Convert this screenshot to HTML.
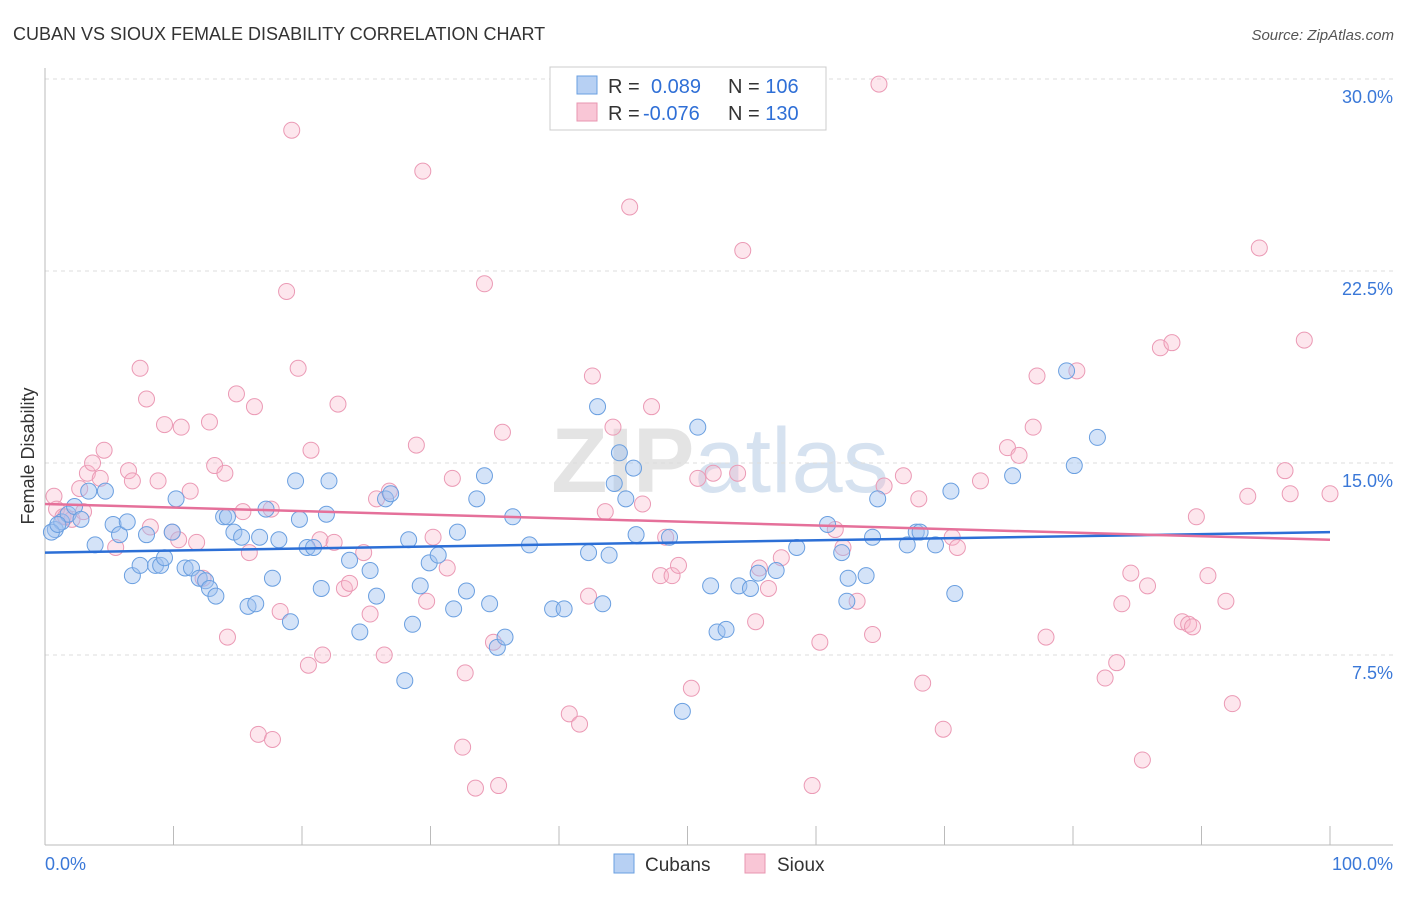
<!DOCTYPE html>
<html><head><meta charset="utf-8"><style>
body{margin:0;background:#fff;font-family:"Liberation Sans",sans-serif;}
svg text{font-family:"Liberation Sans",sans-serif;}
</style></head><body>
<svg id="chart" width="1406" height="892" viewBox="0 0 1406 892">
<text x="13" y="40" font-size="18" fill="#333">CUBAN VS SIOUX FEMALE DISABILITY CORRELATION CHART</text>
<text x="1394" y="40" font-size="15" fill="#555" font-style="italic" text-anchor="end">Source: ZipAtlas.com</text>
<text x="720" y="492" font-size="92" fill="#e4e4e4" text-anchor="middle" font-family="Liberation Serif"><tspan font-weight="bold">ZIP</tspan><tspan font-family="Liberation Sans" fill="#d6e2f0">atlas</tspan></text>
<text transform="translate(34,456) rotate(-90)" font-size="18" fill="#333" text-anchor="middle">Female Disability</text>
<g id="grid"></g><g id="axes"></g><g id="pts"></g><g id="trend"></g>
<g>
<rect x="550" y="67" width="276" height="63" fill="#fff" stroke="#ccc"/>
<rect x="577" y="76" width="20" height="18" fill="#b7d0f3" stroke="#6a9fe0"/>
<rect x="577" y="103" width="20" height="18" fill="#f9c6d6" stroke="#e896b0"/>
<text x="608" y="93" font-size="20" fill="#333">R = <tspan fill="#2f6fd6" x="651">0.089</tspan><tspan fill="#333" x="728">N = </tspan><tspan fill="#2f6fd6">106</tspan></text>
<text x="608" y="120" font-size="20" fill="#333">R = <tspan fill="#2f6fd6" x="643">-0.076</tspan><tspan fill="#333" x="728">N = </tspan><tspan fill="#2f6fd6">130</tspan></text>
</g>
<g>
<rect x="614" y="854" width="20" height="19" fill="#b7d0f3" stroke="#6a9fe0"/>
<text x="645" y="871" font-size="19" fill="#333">Cubans</text>
<rect x="745" y="854" width="20" height="19" fill="#f9c6d6" stroke="#e896b0"/>
<text x="777" y="871" font-size="19" fill="#333">Sioux</text>
</g>
</svg>
<script>
const yTicks=[7.5,15,22.5,30];
const yTickLabels=["7.5%","15.0%","22.5%","30.0%"];
const xTickCount=10;
const xLabels=["0.0%","100.0%"];
const cubanX=[0.8,1.3,1.8,2.3,2.8,3.4,3.9,4.7,5.3,5.8,6.4,6.8,7.4,7.9,8.6,9.0,9.3,9.9,10.2,10.9,11.4,12.0,12.5,12.8,13.3,13.9,14.2,14.7,15.3,15.8,16.4,16.7,17.2,17.7,18.2,19.1,19.5,19.8,20.4,20.9,21.5,21.9,22.1,23.7,24.5,25.3,25.8,26.5,26.9,28.0,28.3,28.6,29.2,29.9,30.6,31.8,32.1,32.8,33.6,34.2,34.6,35.2,35.8,36.4,37.7,39.5,40.4,42.3,43.0,43.4,43.9,44.3,44.7,45.2,45.8,46.0,48.6,49.6,50.8,51.8,52.3,53.0,54.0,54.9,55.5,56.9,58.5,60.9,62.0,62.5,62.4,63.9,64.4,64.8,67.1,67.8,68.1,69.3,70.5,70.8,75.3,79.5,80.1,81.9,0.5,1.0];
const cubanY=[12.4,12.7,13.0,13.3,12.8,13.9,11.8,13.9,12.6,12.2,12.7,10.6,11.0,12.2,11.0,11.0,11.3,12.3,13.6,10.9,10.9,10.5,10.4,10.1,9.8,12.9,12.9,12.3,12.1,9.4,9.5,12.1,13.2,10.5,12.0,8.8,14.3,12.8,11.7,11.7,10.1,13.0,14.3,11.2,8.4,10.8,9.8,13.6,13.8,6.5,12.0,8.7,10.2,11.1,11.4,9.3,12.3,10.0,13.6,14.5,9.5,7.8,8.2,12.9,11.8,9.3,9.3,11.5,17.2,9.5,11.4,14.2,15.4,13.6,14.8,12.2,12.1,5.3,16.4,10.2,8.4,8.5,10.2,10.1,10.7,10.8,11.7,12.6,11.5,10.5,9.6,10.6,12.1,13.6,11.8,12.3,12.3,11.8,13.9,9.9,14.5,18.6,14.9,16.0,12.3,12.6];
const siouxX=[0.7,0.9,1.4,2.1,2.7,3.3,3.7,4.3,4.6,5.5,6.5,6.8,7.4,7.9,8.2,8.8,9.3,9.9,10.6,10.4,11.3,11.8,12.3,12.8,13.2,14.0,14.2,14.9,15.4,15.9,16.3,16.6,17.7,17.6,18.3,18.8,19.2,19.7,20.5,20.7,21.4,21.6,22.5,22.8,23.3,23.7,24.8,25.3,25.8,26.4,26.8,28.9,29.4,29.7,30.2,31.3,31.7,32.5,32.7,33.5,34.2,34.9,35.3,35.6,40.8,41.6,42.3,42.6,43.6,44.2,45.5,46.5,47.2,47.9,48.3,48.8,49.3,50.3,50.8,52.0,53.9,54.3,55.3,55.6,56.3,57.3,59.7,60.3,61.5,62.1,63.2,64.4,64.9,65.3,66.8,68.0,68.3,69.9,70.6,71.0,72.8,74.9,75.8,76.9,77.2,77.9,80.3,82.5,83.4,83.8,84.5,85.4,85.8,86.8,87.7,88.5,89.0,89.3,89.6,90.5,91.9,92.4,93.6,94.5,96.5,96.9,98.0,100,1.6,3.0];
const siouxY=[13.7,13.2,12.9,12.8,14.0,14.6,15.0,14.4,15.5,11.7,14.7,14.3,18.7,17.5,12.5,14.3,16.5,12.3,16.4,12.0,13.9,11.9,10.5,16.6,14.9,14.6,8.2,17.7,13.1,11.5,17.2,4.4,4.2,13.2,9.2,21.7,28.0,18.7,7.1,15.5,12.0,7.5,11.9,17.3,10.1,10.3,11.5,9.1,13.6,7.5,13.9,15.7,26.4,9.6,12.1,10.9,14.4,3.9,6.8,2.3,22.0,8.0,2.4,16.2,5.2,4.8,9.8,18.4,13.1,16.4,25.0,13.4,17.2,10.6,12.1,10.6,11.0,6.2,14.4,14.6,14.6,23.3,8.8,10.9,10.1,11.3,2.4,8.0,12.4,11.7,9.6,8.3,29.8,14.1,14.5,13.6,6.4,4.6,12.1,11.7,14.3,15.6,15.3,16.4,18.4,8.2,18.6,6.6,7.2,9.5,10.7,3.4,10.2,19.5,19.7,8.8,8.7,8.6,12.9,10.6,9.6,5.6,13.7,23.4,14.7,13.8,19.8,13.8,12.9,13.1];
const cubanTrend=[11.5,12.3];
const siouxTrend=[13.4,12.0];
const NS="http://www.w3.org/2000/svg";
function xS(v){return 45+v*12.85;}
function yS(v){return 463+(15-v)*25.6;}
function mk(tag,attrs,parent){const e=document.createElementNS(NS,tag);for(const k in attrs)e.setAttribute(k,attrs[k]);parent.appendChild(e);return e;}
const grid=document.getElementById('grid'),axes=document.getElementById('axes'),pts=document.getElementById('pts'),tr=document.getElementById('trend');
yTicks.forEach((t,i)=>{
 const l=mk('line',{x1:45,x2:1393,y1:yS(t),y2:yS(t),stroke:'#ddd','stroke-dasharray':'4,4'},grid);
 
 
 const tx=mk('text',{x:1393,y:yS(t)+24,'font-size':18,fill:'#3a78d8','text-anchor':'end'},axes);
 tx.textContent=yTickLabels[i];
 
 
});
const ya=mk('line',{x1:45,x2:45,y1:68,y2:845,stroke:'#bbb'},axes);


const xa=mk('line',{x1:45,x2:1393,y1:845,y2:845,stroke:'#bbb'},axes);


for(let i=0;i<=xTickCount;i++){
 const t=mk('line',{x1:xS(i*10),x2:xS(i*10),y1:826,y2:845,stroke:'#bbb'},axes);
 
 
}
const xl0=mk('text',{x:45,y:870,'font-size':18,fill:'#3a78d8'},axes);xl0.textContent=xLabels[0];


const xl1=mk('text',{x:1393,y:870,'font-size':18,fill:'#3a78d8','text-anchor':'end'},axes);xl1.textContent=xLabels[1];


function draw(xs,ys,fill,stroke,name){
 xs.forEach((x,i)=>{
  const c=mk('circle',{cx:xS(x),cy:yS(ys[i]),r:8,fill:fill,stroke:stroke,'stroke-width':1},pts);
  
  
 });
}
draw(siouxX,siouxY,'rgba(248,182,204,0.35)','#eb9ab5','sioux-point');
draw(cubanX,cubanY,'rgba(160,194,240,0.45)','#6a9fe0','cuban-point');
const t1=mk('line',{x1:xS(0),x2:xS(100),y1:yS(cubanTrend[0]),y2:yS(cubanTrend[1]),stroke:'#2c6fd6','stroke-width':2.5},tr);


const t2=mk('line',{x1:xS(0),x2:xS(100),y1:yS(siouxTrend[0]),y2:yS(siouxTrend[1]),stroke:'#e5709a','stroke-width':2.5},tr);


</script>
</body></html>
